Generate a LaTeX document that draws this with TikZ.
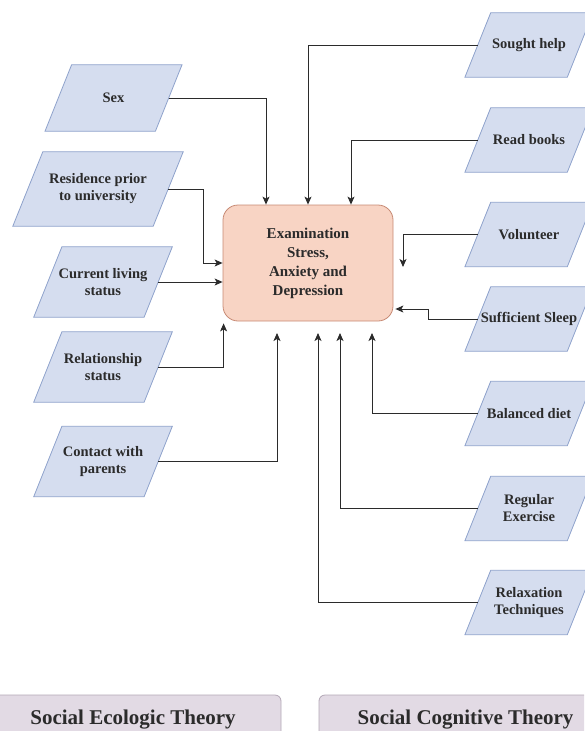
\documentclass[tikz,border=0pt]{standalone}
\usepackage{fontspec}
\setmainfont{Liberation Serif}
\usetikzlibrary{arrows.meta,backgrounds}
\definecolor{parafill}{HTML}{D5DDEF}
\definecolor{paradraw}{HTML}{8DA1CB}
\definecolor{examfill}{HTML}{F8D4C4}
\definecolor{examdraw}{HTML}{C78A74}
\definecolor{theofill}{HTML}{E2DAE4}
\definecolor{theodraw}{HTML}{B3A7B6}
\definecolor{inkgray}{HTML}{2B2B2B}

\begin{document}
\begin{tikzpicture}[x=1pt, y=-1pt, >={Stealth[length=8pt,width=7pt,inset=2pt]},
  factor/.style={rectangle, inner sep=0pt, align=center, text=inkgray,
    font=\fontsize{14.5}{17}\selectfont\bfseries},
  slab/.style={draw=paradraw, fill=parafill, line width=0.8pt, line join=miter},
  exam/.style={rectangle, rounded corners=15, draw=examdraw, fill=examfill,
    line width=0.8pt, align=center, text=inkgray,
    minimum width=170, minimum height=116,
    font=\fontsize{15}{19}\selectfont\bfseries},
  theory/.style={rectangle, rounded corners=6, draw=theodraw, fill=theofill,
    line width=0.8pt, text=inkgray, minimum height=50,
    font=\fontsize{21}{24}\selectfont\bfseries},
  link/.style={->, draw=inkgray, line width=0.9pt}]

\useasboundingbox (0,0) rectangle (584,731);
\clip (0,0) rectangle (584,731);

% outcome
\node[exam] (exam) at (308,263) {Examination\\Stress,\\Anxiety and\\Depression};

% social ecologic factors
\node[factor, minimum width=110, minimum height=66] (sex) at (113.5,98) {Sex};
\node[factor, minimum width=140, minimum height=74] (res) at (98,189) {Residence prior\\to university};
\node[factor, minimum width=110, minimum height=70] (cur) at (103,282) {Current living\\status};
\node[factor, minimum width=110, minimum height=70] (rel) at (103,367) {Relationship\\status};
\node[factor, minimum width=110, minimum height=70] (con) at (103,461.5) {Contact with\\parents};

% social cognitive factors
\node[factor, minimum width=102, minimum height=64] (help) at (529,45) {Sought help};
\node[factor, minimum width=102, minimum height=64] (read) at (529,140) {Read books};
\node[factor, minimum width=102, minimum height=64] (vol) at (529,234.5) {Volunteer};
\node[factor, minimum width=102, minimum height=64] (sleep) at (529,319) {Sufficient Sleep};
\node[factor, minimum width=102, minimum height=64] (diet) at (529,413.5) {Balanced diet};
\node[factor, minimum width=102, minimum height=64] (exer) at (529,508.5) {Regular\\Exercise};
\node[factor, minimum width=102, minimum height=64] (relax) at (529,602.5) {Relaxation\\Techniques};

% parallelograms behind the factor labels
\begin{scope}[on background layer]
\foreach \n/\s in {sex/13.3, res/15, cur/14.1, rel/14.1, con/14.1,
                   help/12.9, read/12.9, vol/12.9, sleep/12.9,
                   diet/12.9, exer/12.9, relax/12.9}
  \filldraw[slab] ([xshift=\s]\n.north west) -- ([xshift=\s]\n.north east)
    -- ([xshift=-\s]\n.south east) -- ([xshift=-\s]\n.south west) -- cycle;
\end{scope}

% theories
\node[theory, minimum width=296] (eco) at (133,720) {Social Ecologic Theory};
\node[theory, minimum width=293] (cog) at (465.5,720) {Social Cognitive Theory};

% free arrow ends
\coordinate (in-con) at (277,333);
\coordinate (in-vol) at (403,267);
\coordinate (in-diet) at (372,333);
\coordinate (in-exer) at (340,333);
\coordinate (in-relax) at (318,333);

\draw[link] (sex.east) -| ([xshift=-42]exam.north);
\draw[link] (res.east) -- ++(35,0) |- (exam.west);
\draw[link] (cur.east) -- (cur.east -| exam.west);
\draw[link] (rel.east) -| ([shift={(1pt,-2pt)}]exam.south west);
\draw[link] (con.east) -| (in-con);

\draw[link] (help.west) -| (exam.north);
\draw[link] (read.west) -| ([xshift=43]exam.north);
\draw[link] (vol.west) -| (in-vol);
\draw[link] (sleep.west) -- ++(-49,0) |- ([shift={(2pt,-46pt)}]exam.east);
\draw[link] (diet.west) -| (in-diet);
\draw[link] (exer.west) -| (in-exer);
\draw[link] (relax.west) -| (in-relax);

\end{tikzpicture}
\end{document}
